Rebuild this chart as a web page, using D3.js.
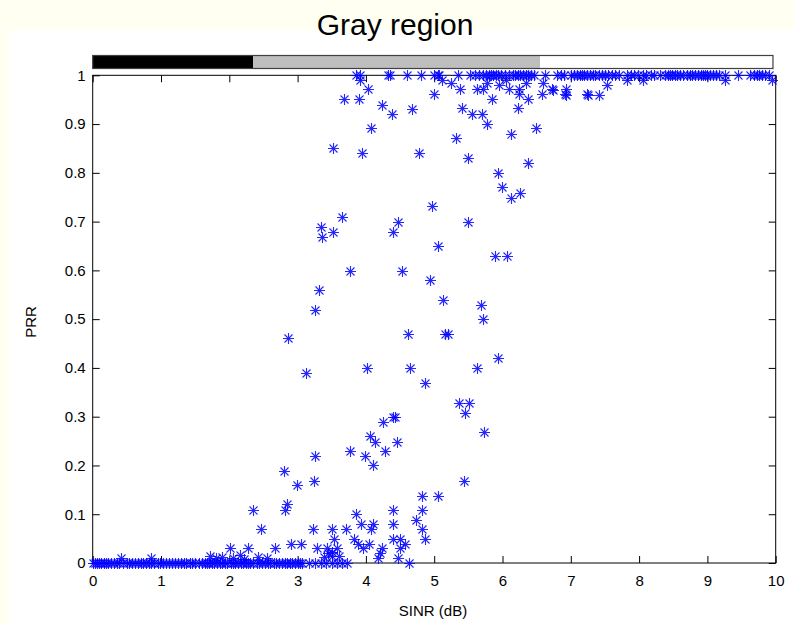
<!DOCTYPE html>
<html>
<head>
<meta charset="utf-8">
<script src="https://cdn.jsdelivr.net/npm/d3@7"></script>
<style>
  html, body { margin: 0; padding: 0; background: #fffff2; }
  svg { display: block; }
</style>
</head>
<body>
<div id="chart"></div>
<script>
// zones of the bar above the plot (SINR dB)
const zoneEdges = [0, 2.35, 6.55, 9.96];
const zoneFills = ["#000000", "#bebebe", "#ffffff"];

const xTicks = [0, 1, 2, 3, 4, 5, 6, 7, 8, 9, 10];
const yTicks = [0, 0.1, 0.2, 0.3, 0.4, 0.5, 0.6, 0.7, 0.8, 0.9, 1];

// points lying on PRR = 0
const zeroX = [0, 0.03, 0.06, 0.09, 0.12, 0.16, 0.2, 0.23, 0.27, 0.31, 0.35, 0.38, 0.45, 0.5, 0.53,
  0.57, 0.62, 0.66, 0.7, 0.74, 0.78, 0.82, 0.85, 0.9, 0.95, 0.99, 1.03, 1.07, 1.12, 1.16, 1.2, 1.25,
  1.3, 1.33, 1.37, 1.42, 1.46, 1.5, 1.55, 1.6, 1.64, 1.68, 1.71, 1.75, 1.78, 1.82, 1.86, 1.89, 1.93,
  1.97, 2.02, 2.05, 2.09, 2.13, 2.17, 2.2, 2.24, 2.27, 2.31, 2.35, 2.4, 2.44, 2.48, 2.52, 2.56, 2.6,
  2.65, 2.69, 2.73, 2.77, 2.81, 2.85, 2.89, 2.92, 2.96, 3.0, 3.03, 3.06, 3.17, 3.26, 3.34, 3.42,
  3.5, 3.58, 3.65, 3.72, 4.63];

// points lying on PRR = 1
const oneX = [3.86, 3.92, 4.33, 4.36, 4.6, 4.8, 5.0, 5.06, 5.07, 5.35, 5.52, 5.6, 5.66, 5.72, 5.76,
  5.8, 5.83, 5.86, 5.9, 5.94, 5.98, 6.03, 6.1, 6.15, 6.19, 6.22, 6.26, 6.3, 6.34, 6.38, 6.42, 6.46,
  6.62, 6.8, 6.86, 6.9, 7.0, 7.04, 7.09, 7.13, 7.17, 7.2, 7.24, 7.28, 7.32, 7.36, 7.41, 7.45, 7.5,
  7.55, 7.6, 7.65, 7.7, 7.82, 7.88, 7.93, 7.98, 8.05, 8.1, 8.17, 8.22, 8.3, 8.38, 8.42, 8.45, 8.48,
  8.52, 8.55, 8.6, 8.65, 8.7, 8.74, 8.78, 8.82, 8.86, 8.9, 8.93, 8.97, 9.0, 9.04, 9.08, 9.12, 9.17,
  9.26, 9.45, 9.62, 9.68, 9.72, 9.76, 9.8, 9.84, 9.9];

// the rest: SINR and PRR
const midX = [3.91, 4.03, 3.68, 3.90, 4.24, 4.38, 4.68, 4.07, 3.52, 3.95, 4.78, 4.99, 5.12,
  4.97, 3.65, 3.34, 3.35, 3.52, 4.47, 4.39, 5.05, 3.77, 4.53, 4.94, 3.32, 3.25, 5.13,
  5.38, 5.62, 5.72, 5.84, 6.10, 6.24, 6.24, 6.37, 6.58, 6.73, 6.93, 6.92, 7.23,
  5.40, 5.55, 5.70, 5.78, 6.22, 5.32, 6.13, 6.49, 5.49, 6.38, 5.94, 5.99, 6.12, 6.25, 5.50, 5.89, 6.06, 5.69,
  5.72, 5.16, 5.20, 5.93, 5.63, 4.87, 5.37, 5.51, 5.45, 5.73, 5.43, 4.82, 5.06, 4.82, 4.82, 4.86, 4.73,
  2.86, 4.62, 3.12, 4.01, 4.65, 4.40, 4.43, 4.25, 4.06, 4.13, 4.45, 4.28, 3.76, 3.99, 4.10, 3.26,
  2.80, 3.24, 2.99, 2.84, 2.81, 2.35, 2.47, 3.23, 3.50, 3.71, 3.85, 3.93, 4.10, 4.07, 4.40, 4.40,
  3.54, 3.82, 4.40, 4.50, 4.57, 2.90, 3.05, 3.89, 4.05, 3.96, 4.23, 4.20, 4.50, 2.28, 2.67, 3.28,
  3.43, 3.57, 3.50, 3.51, 4.18, 4.47, 2.01,
  0.41, 0.86, 1.72, 1.80, 1.90, 2.06, 2.15, 2.22, 2.42, 2.55, 3.38, 3.45, 3.60,
  5.25, 5.78, 5.95, 6.05, 6.35, 6.60, 6.74, 6.93, 7.25, 7.42, 7.53, 7.82, 8.06, 9.26, 9.95];
const midY = [0.99, 0.971, 0.951, 0.951, 0.94, 0.92, 0.931, 0.891, 0.85, 0.84, 0.84, 0.961, 0.99,
  0.731, 0.709, 0.689, 0.669, 0.679, 0.70, 0.679, 0.649, 0.599, 0.599, 0.58, 0.56, 0.519, 0.539,
  0.971, 0.971, 0.971, 0.951, 0.971, 0.971, 0.961, 0.951, 0.961, 0.971, 0.971, 0.961, 0.961,
  0.932, 0.92, 0.92, 0.90, 0.932, 0.871, 0.88, 0.891, 0.83, 0.82, 0.80, 0.77, 0.749, 0.759, 0.70, 0.63, 0.63, 0.529,
  0.50, 0.47, 0.47, 0.42, 0.40, 0.37, 0.329, 0.329, 0.308, 0.269, 0.169, 0.138, 0.138, 0.109, 0.069, 0.049, 0.088,
  0.461, 0.469, 0.39, 0.40, 0.40, 0.30, 0.30, 0.289, 0.26, 0.249, 0.249, 0.23, 0.23, 0.219, 0.20, 0.219,
  0.189, 0.169, 0.159, 0.121, 0.109, 0.109, 0.069, 0.069, 0.069, 0.069, 0.10, 0.079, 0.079, 0.069, 0.109, 0.079,
  0.049, 0.049, 0.049, 0.049, 0.039, 0.039, 0.039, 0.039, 0.039, 0.03, 0.03, 0.02, 0.03, 0.03, 0.03, 0.03,
  0.03, 0.03, 0.022, 0.014, 0.01, 0.01, 0.03,
  0.01, 0.01, 0.015, 0.01, 0.012, 0.01, 0.016, 0.008, 0.012, 0.01, 0.012, 0.02, 0.015,
  0.985, 0.985, 0.98, 0.99, 0.985, 0.985, 0.97, 0.96, 0.96, 0.96, 0.98, 0.99, 0.99, 0.99, 0.99];

const W = 794, H = 625;
const svg = d3.select("#chart").append("svg")
  .attr("width", W)
  .attr("height", H)
  .style("font-family", "'Liberation Sans', Arial, sans-serif");

// white figure area
svg.append("rect")
  .attr("x", 9).attr("y", 30)
  .attr("width", W - 9).attr("height", H - 30)
  .attr("fill", "#ffffff");

const x = d3.scaleLinear().domain([0, 10]).range([92.7, 775.7]);
const y = d3.scaleLinear().domain([0, 1]).range([563, 75.3]);

// title
svg.append("text")
  .attr("x", 395).attr("y", 35)
  .attr("text-anchor", "middle")
  .attr("font-size", "30px")
  .attr("fill", "#000")
  .text("Gray region");

// zone bar
const zones = zoneFills.map((f, i) => ({ a: zoneEdges[i], b: zoneEdges[i + 1], fill: f }));
svg.append("g").selectAll("rect")
  .data(zones)
  .enter().append("rect")
  .attr("x", d => x(d.a))
  .attr("y", 55.5)
  .attr("width", d => x(d.b) - x(d.a))
  .attr("height", 13)
  .attr("fill", d => d.fill);
svg.append("rect")
  .attr("x", x(zoneEdges[0])).attr("y", 55.5)
  .attr("width", x(zoneEdges[zoneEdges.length - 1]) - x(zoneEdges[0]))
  .attr("height", 13)
  .attr("fill", "none")
  .attr("stroke", "#404040")
  .attr("stroke-width", 1.2);

// axes
const fs = "15px";
const gx = svg.append("g")
  .attr("transform", "translate(0," + y(0) + ")")
  .call(d3.axisBottom(x).tickValues(xTicks).tickFormat(d3.format("d"))
    .tickSizeInner(-7).tickSizeOuter(0).tickPadding(12));
const gy = svg.append("g")
  .attr("transform", "translate(" + x(0) + ",0)")
  .call(d3.axisLeft(y).tickValues(yTicks).tickFormat(d => d3.format("~g")(d))
    .tickSizeInner(-7).tickSizeOuter(0).tickPadding(7));
const gt = svg.append("g")
  .attr("transform", "translate(0," + y(1) + ")")
  .call(d3.axisTop(x).tickValues(xTicks).tickFormat("")
    .tickSizeInner(-7).tickSizeOuter(0));
const gr = svg.append("g")
  .attr("transform", "translate(" + x(10) + ",0)")
  .call(d3.axisRight(y).tickValues(yTicks).tickFormat("")
    .tickSizeInner(-7).tickSizeOuter(0));
[gx, gy, gt, gr].forEach(g => {
  g.select(".domain").remove();
  g.selectAll("line").attr("stroke", "#000");
  g.selectAll("text").attr("font-size", fs).attr("fill", "#000")
    .style("font-family", "'Liberation Sans', Arial, sans-serif");
});

// box
svg.append("rect")
  .attr("x", x(0)).attr("y", y(1))
  .attr("width", x(10) - x(0)).attr("height", y(0) - y(1))
  .attr("fill", "none")
  .attr("stroke", "#000")
  .attr("stroke-width", 1);

// axis labels
svg.append("text")
  .attr("x", 433).attr("y", 616)
  .attr("text-anchor", "middle")
  .attr("font-size", fs)
  .text("SINR (dB)");
svg.append("text")
  .attr("transform", "translate(36,322) rotate(-90)")
  .attr("text-anchor", "middle")
  .attr("font-size", fs)
  .text("PRR");

// points
const pts = []
  .concat(zeroX.map(v => ({ sinr: v, prr: 0 })))
  .concat(oneX.map(v => ({ sinr: v, prr: 1 })))
  .concat(midX.map((v, i) => ({ sinr: v, prr: midY[i] })));

const star = "M-5.5,0H5.5M0,-5.5V5.5M-4,-4L4,4M-4,4L4,-4";
svg.append("g").selectAll("path")
  .data(pts)
  .enter().append("path")
  .attr("d", star)
  .attr("transform", d => "translate(" + (Math.round(x(d.sinr)) + 0.5) + "," + (Math.round(y(d.prr)) + 0.5) + ")")
  .attr("fill", "none")
  .attr("stroke", "#0000ff")
  .attr("stroke-opacity", 0.85)
  .attr("stroke-width", 1.1);
</script>
</body>
</html>
